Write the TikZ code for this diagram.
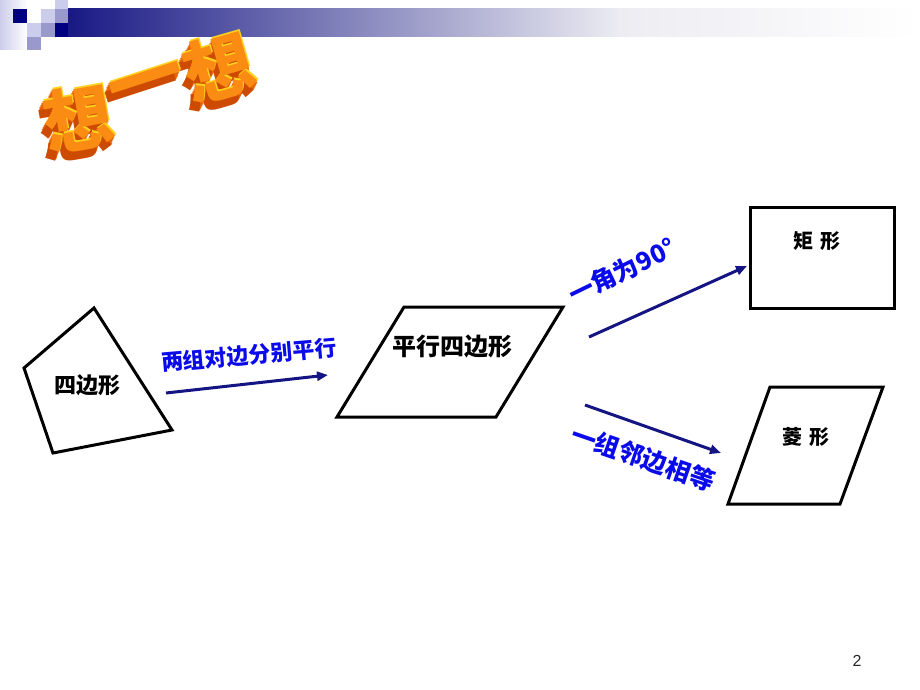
\documentclass[tikz,border=0pt]{standalone}
\usepackage{fontspec}
\setmainfont{Liberation Sans}
\newfontfamily\cjk{Noto Sans CJK SC}
\usetikzlibrary{arrows.meta,calc}
\definecolor{navyA}{RGB}{20,20,130}
\definecolor{navyB}{RGB}{0,0,128}
\definecolor{lavL}{RGB}{204,204,236}
\definecolor{lavM}{RGB}{153,153,204}
\definecolor{barEnd}{RGB}{236,236,242}
\definecolor{lblue}{RGB}{10,10,235}
\definecolor{orSide}{RGB}{232,100,5}
\definecolor{orDeep}{RGB}{205,75,0}
\definecolor{orFront}{RGB}{250,140,20}
\definecolor{orHi}{RGB}{255,210,30}
\tikzset{
  shapeline/.style={draw=black,line width=3pt,line join=miter},
  flow/.style={draw=navyA,line width=3pt,-{Triangle[length=11pt,width=9pt]}},
  lbl/.style={text=lblue,font=\cjk\bfseries\fontsize{22}{22}\selectfont,inner sep=0pt},
  shapetext/.style={text=black,font=\cjk\bfseries\fontsize{22}{22}\selectfont,inner sep=0pt},
  ttl/.style={font=\cjk\bfseries\fontsize{70}{70}\selectfont,inner sep=0pt}
}
\begin{document}
\begin{tikzpicture}[x=1pt,y=-1pt]
\useasboundingbox (0,0) rectangle (920,690);
% header
\shade[left color=lavL,right color=white] (0,0) rectangle (27,50);
\shade[left color=navyA,right color=barEnd] (55,9) rectangle (620,37);
\shade[left color=barEnd,right color=white] (619,9) rectangle (920,37);
\fill[navyB] (13,9) rectangle (27,23);
\fill[lavL] (55,0) rectangle (68,9);
\fill[lavL] (41,9) rectangle (55,23);
\fill[lavM] (55,9) rectangle (68,23);
\fill[lavL] (27,23) rectangle (41,37);
\fill[lavM] (41,23) rectangle (55,37);
\fill[navyB] (55,23) rectangle (68,37);
\fill[lavM] (27,37) rectangle (41,50);
% title 3D
\foreach \i in {2,4,6,8}{
  \node[ttl,text=orSide,rotate=10] (t1s\i) at (78-0.4*\i,119+0.9*\i) {想};
  \node[ttl,text=orSide,rotate=18,xscale=1.1] (t2s\i) at (148-0.4*\i,88+0.9*\i) {一};
  \node[ttl,text=orSide,rotate=16] (t3s\i) at (219-0.4*\i,68+0.9*\i) {想};
}
\node[ttl,text=orDeep,rotate=10] (t1d) at (74,128) {想};
\node[ttl,text=orDeep,rotate=18,xscale=1.1] (t2d) at (144,97) {一};
\node[ttl,text=orDeep,rotate=16] (t3d) at (215,77) {想};
\node[ttl,text=orHi,rotate=10] (t1h) at (79,116.5) {想};
\node[ttl,text=orHi,rotate=18,xscale=1.1] (t2h) at (149,85.5) {一};
\node[ttl,text=orHi,rotate=16] (t3h) at (220,65.5) {想};
\node[ttl,text=orFront,rotate=10] (t1) at (78,119) {想};
\node[ttl,text=orFront,rotate=18,xscale=1.1] (t2) at (148,88) {一};
\node[ttl,text=orFront,rotate=16] (t3) at (219,68) {想};
% quadrilateral
\coordinate (q1) at (94,308);
\coordinate (q2) at (24,368);
\coordinate (q3) at (53,453);
\coordinate (q4) at (172,430);
\draw[shapeline] (q1) -- (q2) -- (q3) -- (q4) -- cycle;
\node[shapetext] (quad) at (87,385) {四边形};
% parallelogram
\coordinate (p1) at (404,307);
\coordinate (p2) at (563,307);
\coordinate (p3) at (496,417);
\coordinate (p4) at (337,417);
\draw[shapeline] (p1) -- (p2) -- (p3) -- (p4) -- cycle;
\node[shapetext,font=\cjk\bfseries\fontsize{24}{24}\selectfont] (para) at (452,346) {平行四边形};
% rectangle
\node[draw=black,line width=3.5pt,minimum width=144pt,minimum height=101pt,inner sep=0pt] (rect) at (822.5,258) {};
\node[shapetext,font=\cjk\bfseries\fontsize{20}{20}\selectfont] (rectt) at (817,241) {矩\,\,形};
% rhombus
\coordinate (r1) at (770,387);
\coordinate (r2) at (883,387);
\coordinate (r3) at (840,504);
\coordinate (r4) at (728,504);
\draw[shapeline] (r1) -- (r2) -- (r3) -- (r4) -- cycle;
\node[shapetext,font=\cjk\bfseries\fontsize{20}{20}\selectfont] (rhot) at (806,437) {菱\,\,形};
% arrows
\coordinate (a1s) at (166,393);
\coordinate (a1e) at (328,375);
\draw[flow] (a1s) -- (a1e);
\coordinate (a2s) at (589,337);
\coordinate (a2e) at (747,266);
\draw[flow] (a2s) -- (a2e);
\coordinate (a3s) at (585,405);
\coordinate (a3e) at (721,453);
\draw[flow] (a3s) -- (a3e);
% labels
\node[lbl,rotate=5] (l1) at (249,355) {两组对边分别平行};
\node[lbl,rotate=26,font=\cjk\bfseries\fontsize{25}{25}\selectfont] (l2) at (622,271) {一角为90°};
\node[lbl,rotate=-19,font=\cjk\bfseries\fontsize{25}{25}\selectfont] (l3) at (643,458) {一组邻边相等};
% page number
\node[font=\fontsize{16}{16}\selectfont,text=black!85,inner sep=0pt] (pg) at (857,661) {2};
\end{tikzpicture}
\end{document}
